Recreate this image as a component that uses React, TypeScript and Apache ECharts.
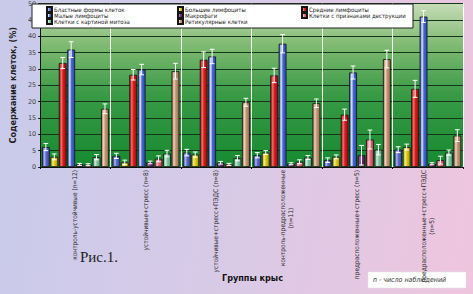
import React, { useEffect, useRef } from "react";
import * as echarts from "echarts";

const categories = [
  "контроль-устойчивые (n=12)",
  "устойчивые+стресс (n=8)",
  "устойчивые+стресс+ПЭДС (n=8)",
  "контроль-предрасположенные\n(n=11)",
  "предрасположенные+стресс (n=5)",
  "предрасположенные+стресс+ПЭДС\n(n=5)",
];

const seriesNames = [
  "Бластные формы клеток",
  "Большие лимфоциты",
  "Средние лимфоциты",
  "Малые лимфоциты",
  "Макрофаги",
  "Клетки с признаками деструкции",
  "Клетки с картиной митоза",
  "Ретикулярные клетки",
];

const blast = [6.1, 3.4, 4.4, 3.6, 2.1, 5.3];
const large = [3.1, 1.4, 3.8, 4.4, 3.1, 6.1];
const medium = [31.8, 28.2, 32.8, 28.0, 16.0, 23.9];
const small = [35.9, 29.8, 33.8, 37.7, 28.9, 46.0];
const macro = [0.8, 1.4, 1.3, 1.0, 3.6, 1.0];
const destr = [0.7, 2.5, 0.8, 1.6, 8.4, 2.1];
const mitosis = [3.0, 4.1, 2.7, 2.9, 5.3, 4.4];
const retic = [17.8, 29.3, 19.8, 19.5, 33.0, 9.6];

const blastErr = [1.1, 0.8, 1.0, 0.8, 0.7, 0.9];
const largeErr = [0.9, 0.7, 0.8, 0.6, 0.6, 0.9];
const mediumErr = [1.7, 1.6, 2.4, 2.2, 1.7, 2.6];
const smallErr = [2.4, 1.6, 2.2, 2.8, 2.0, 1.8];
const macroErr = [0.3, 0.4, 0.4, 0.3, 3.0, 0.3];
const destrErr = [0.3, 0.9, 0.3, 0.6, 2.9, 1.2];
const mitosisErr = [0.8, 1.0, 0.8, 0.6, 1.6, 0.8];
const reticErr = [1.5, 2.4, 1.2, 1.3, 2.7, 1.8];

const yTicks = { min: 0, max: 50, interval: 5 };

const seriesValues = [blast, large, medium, small, macro, destr, mitosis, retic];
const seriesErrors = [blastErr, largeErr, mediumErr, smallErr, macroErr, destrErr, mitosisErr, reticErr];

// [dark, light, base]
const palette = [
  ["#3a44a0", "#a8b0f0", "#5a68c8"],
  ["#a89800", "#f4ec80", "#d8c818"],
  ["#a00808", "#f07070", "#d81c1c"],
  ["#2848b0", "#dbe6fb", "#4868d0"],
  ["#401848", "#a070a8", "#6a2c70"],
  ["#b84050", "#f4b0b8", "#e0687a"],
  ["#58a078", "#c8ecd8", "#80c4a0"],
  ["#9a7050", "#ecd0b8", "#c49474"],
];

const legendCols = [
  [0, 3, 6],
  [1, 4, 7],
  [2, 5],
];

const CAT_GAP = 0.05;
const BAR_GAP = 0.08;
const NARROW = "'Liberation Sans Narrow', 'DejaVu Sans Condensed', 'Liberation Sans', sans-serif";

export default function App() {
  const ref = useRef<HTMLDivElement>(null);

  useEffect(() => {
    if (!ref.current) return;
    const chart = echarts.init(ref.current, null, { renderer: "svg" });

    const barSeries = seriesNames.map((name, i) => ({
      name,
      type: "bar",
      data: seriesValues[i],
      barGap: BAR_GAP * 100 + "%",
      barCategoryGap: CAT_GAP * 100 + "%",
      itemStyle: {
        color: new echarts.graphic.LinearGradient(0, 0, 1, 0, [
          { offset: 0, color: palette[i][0] },
          { offset: 0.3, color: palette[i][1] },
          { offset: 0.55, color: palette[i][2] },
          { offset: 1, color: palette[i][0] },
        ]),
        borderColor: "#151515",
        borderWidth: 0.8,
      },
      z: 2,
    }));

    const errData: number[][] = [];
    seriesValues.forEach((vals, s) => {
      vals.forEach((v, c) => {
        errData.push([c, s, v, seriesErrors[s][c]]);
      });
    });

    const errSeries = {
      type: "custom",
      z: 5,
      silent: true,
      encode: { x: 0, y: 2 },
      data: errData,
      renderItem: (params: any, api: any) => {
        const c = api.value(0);
        const s = api.value(1);
        const v = api.value(2);
        const e = api.value(3);
        const band = api.size([1, 0])[0];
        const barW = (band * (1 - CAT_GAP)) / (8 + 7 * BAR_GAP);
        const gap = barW * BAR_GAP;
        const total = 8 * barW + 7 * gap;
        const x = api.coord([c, 0])[0] - total / 2 + barW / 2 + s * (barW + gap);
        const yT = api.coord([c, v + e])[1];
        const yB = api.coord([c, Math.max(v - e, 0)])[1];
        const hw = barW * 0.3;
        const st = { stroke: "#ffffff", lineWidth: 1 };
        return {
          type: "group",
          children: [
            { type: "line", shape: { x1: x, y1: yT, x2: x, y2: yB }, style: st },
            { type: "line", shape: { x1: x - hw, y1: yT, x2: x + hw, y2: yT }, style: st },
            { type: "line", shape: { x1: x - hw, y1: yB, x2: x + hw, y2: yB }, style: st },
          ],
        };
      },
    };

    const legendLeft = [46, 177, 301];

    const option: any = {
      animation: false,
      grid: {
        left: 27,
        right: 10,
        top: 1,
        bottom: 127,
        show: true,
        borderWidth: 0,
        backgroundColor: new echarts.graphic.LinearGradient(0, 0, 0, 1, [
          { offset: 0, color: "#c6dcb6" },
          { offset: 0.25, color: "#80bb72" },
          { offset: 0.55, color: "#3a9a46" },
          { offset: 1, color: "#158a30" },
        ]),
      },
      legend: legendCols.map((col, k) => ({
        orient: "vertical",
        left: legendLeft[k],
        top: 6,
        padding: 0,
        itemWidth: 5,
        itemHeight: 5,
        itemGap: -1,
        icon: "rect",
        selectedMode: false,
        z: 6,
        data: col.map((i) => seriesNames[i]),
        textStyle: { fontSize: 6, lineHeight: 6, color: "#222", fontFamily: NARROW, padding: [0, 0, 0, -3] },
      })),
      xAxis: {
        type: "category",
        data: categories,
        axisLine: { show: true, lineStyle: { color: "#111", width: 1 } },
        axisTick: { show: true, length: 2, lineStyle: { color: "#111" } },
        splitLine: { show: true, lineStyle: { color: "#ffffff", width: 1 } },
        axisLabel: {
          interval: 0,
          rotate: 90,
          margin: 3,
          fontSize: 6.5,
          color: "#2a2a2a",
          fontFamily: NARROW,
          formatter: (val: string) => {
            const parts = val.split("\n");
            if (parts.length === 1) return "{a|" + parts[0] + "}";
            return "{a|" + parts[0] + "}\n{b|" + parts[1] + "}";
          },
          rich: {
            a: { fontSize: 6.5, color: "#2a2a2a", fontFamily: NARROW, lineHeight: 8 },
            b: { fontSize: 6.5, color: "#2a2a2a", fontFamily: NARROW, lineHeight: 8, align: "center" },
          },
        },
      },
      yAxis: {
        type: "value",
        min: yTicks.min,
        max: yTicks.max,
        interval: yTicks.interval,
        name: "Содержание клеток, (%)",
        nameLocation: "middle",
        nameGap: 13,
        nameRotate: 90,
        nameTextStyle: { fontSize: 9, fontWeight: "bold", color: "#222", fontFamily: NARROW },
        axisLine: { show: true, lineStyle: { color: "#111" } },
        axisTick: { show: true, length: 2, lineStyle: { color: "#111" } },
        axisLabel: { fontSize: 6.5, color: "#444", margin: 4, fontFamily: "'DejaVu Sans', sans-serif" },
        splitLine: { show: true, lineStyle: { color: "#14351a", width: 1 } },
      },
      graphic: [
        {
          type: "rect",
          z: 5,
          shape: { x: 32, y: 4, width: 381, height: 24 },
          style: { fill: "#ffffff", stroke: "#222", lineWidth: 1 },
        },
        {
          type: "text",
          left: 80,
          top: 249,
          style: { text: "Рис.1.", fontSize: 15, fontFamily: "'Liberation Serif', 'DejaVu Serif', serif", fill: "#222" },
        },
        {
          type: "text",
          left: 222,
          top: 273,
          style: { text: "Группы крыс", fontSize: 9, fontWeight: "bold", fontFamily: NARROW, fill: "#111" },
        },
        {
          type: "rect",
          shape: { x: 368, y: 272, width: 98, height: 16 },
          style: { fill: "#ffffff", stroke: "#e0e0e0", lineWidth: 0.5 },
        },
        {
          type: "text",
          left: 373,
          top: 276,
          style: {
            text: "n - число наблюдений",
            fontSize: 7,
            fontStyle: "italic",
            fontFamily: NARROW,
            fill: "#333",
          },
        },
      ],
      series: [...barSeries, errSeries],
    };

    chart.setOption(option);
    return () => chart.dispose();
  }, []);

  return (
    <div
      style={{
        position: "fixed",
        left: 0,
        top: 0,
        width: 473,
        height: 294,
        background: "linear-gradient(100deg, #c8caea 0%, #d6cbe8 45%, #efc5de 100%)",
      }}
    >
      <div ref={ref} style={{ width: 473, height: 294 }} />
    </div>
  );
}
